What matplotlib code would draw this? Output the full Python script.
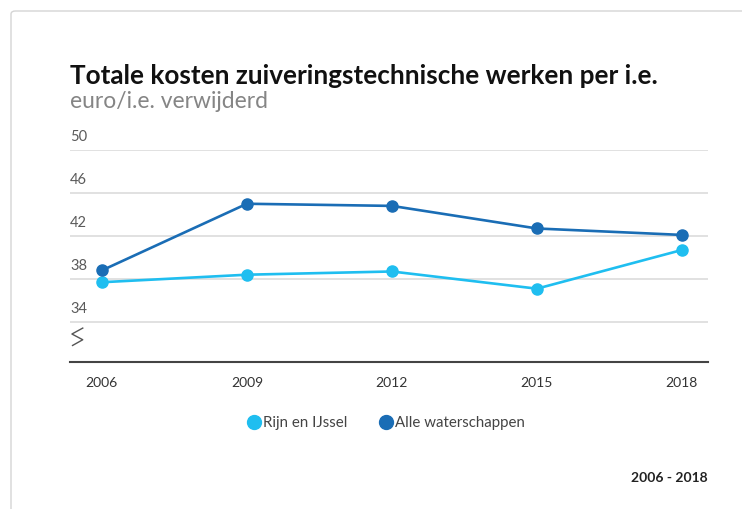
import matplotlib
matplotlib.use("Agg")
import matplotlib.pyplot as plt
from matplotlib.patches import FancyBboxPatch
from matplotlib.lines import Line2D

years = [2006, 2009, 2012, 2015, 2018]
rijn = [37.7, 38.4, 38.7, 37.1, 40.7]
alle = [38.8, 45.0, 44.8, 42.7, 42.1]
yticks = [34, 38, 42, 46, 50]
series_names = ["Rijn en IJssel", "Alle waterschappen"]
title = "Totale kosten zuiveringstechnische werken per i.e."
subtitle = "euro/i.e. verwijderd"
period = "2006 - 2018"

C_LIGHT = "#1fbef0"
C_DARK = "#1a6db5"
FONT = "Lato"

W, H = 742, 509
fig = plt.figure(figsize=(W / 100, H / 100), dpi=100)
fig.patch.set_facecolor("white")

# card border
card = FancyBboxPatch((11 / W, -0.1), 1.2, (H - 11) / H + 0.1,
                      boxstyle="round,pad=0,rounding_size=0.006",
                      transform=fig.transFigure, facecolor="white",
                      edgecolor="#d4d4d4", linewidth=1.0, zorder=-5)
fig.patches.append(card)

ax = fig.add_axes([70 / W, (H - 362) / H, (708 - 70) / W, (362 - 150) / H])
ax.set_zorder(2)
ax.set_facecolor("none")
ax.set_xlim(2005.34, 2018.54)
ax.set_ylim(30.28, 50)

for v in yticks:
    ax.axhline(v, color="#dcdcdc", linewidth=1.2, zorder=1)
    ax.text(0, v + 0.6, str(v), transform=ax.get_yaxis_transform(),
            ha="left", va="bottom", fontsize=10.5, color="#5a5a5a",
            family=FONT)

ax.plot(years, rijn, color=C_LIGHT, linewidth=1.9, marker="o",
        markersize=8, zorder=3)
ax.plot(years, alle, color=C_DARK, linewidth=1.9, marker="o",
        markersize=8, zorder=4)

for s in ["top", "right", "left"]:
    ax.spines[s].set_visible(False)
ax.spines["bottom"].set_color("#444444")
ax.spines["bottom"].set_linewidth(1.5)
ax.set_yticks([])
ax.set_xticks(years)
ax.set_xticklabels([str(y) for y in years], fontsize=10, color="#333333",
                   family=FONT)
ax.tick_params(axis="x", length=0, pad=11)

# axis break zigzag
zx = [0.020, 0.003, 0.020, 0.004]
zy = [0.160, 0.132, 0.105, 0.078]
ax.plot(zx, zy, transform=ax.transAxes, color="#555555", linewidth=1.0,
        clip_on=False)

# title
fig.text(70 / W, 1 - 84 / H, title, fontsize=18.8, fontweight="bold",
         color="#111111", family=FONT, ha="left", va="baseline")
fig.text(70 / W, 1 - 108 / H, subtitle, fontsize=16.5, fontweight="normal",
         color="#858585", family=FONT, ha="left", va="baseline")

# legend
handles = [Line2D([], [], linestyle="none", marker="o", markersize=10,
                  color=C_LIGHT),
           Line2D([], [], linestyle="none", marker="o", markersize=10,
                  color=C_DARK)]
leg = fig.legend(handles, series_names, loc="center",
                 bbox_to_anchor=(385 / W, 1 - 423 / H), ncol=2,
                 frameon=False, handletextpad=0.0, columnspacing=2.0,
                 handlelength=1.2, prop={"family": FONT, "size": 10.8})
for t in leg.get_texts():
    t.set_color("#444444")

fig.text(708 / W, 1 - 478 / H, period, fontsize=10, fontweight="bold",
         color="#222222", family=FONT, ha="right", va="center")

fig.savefig("out.png", dpi=100)
